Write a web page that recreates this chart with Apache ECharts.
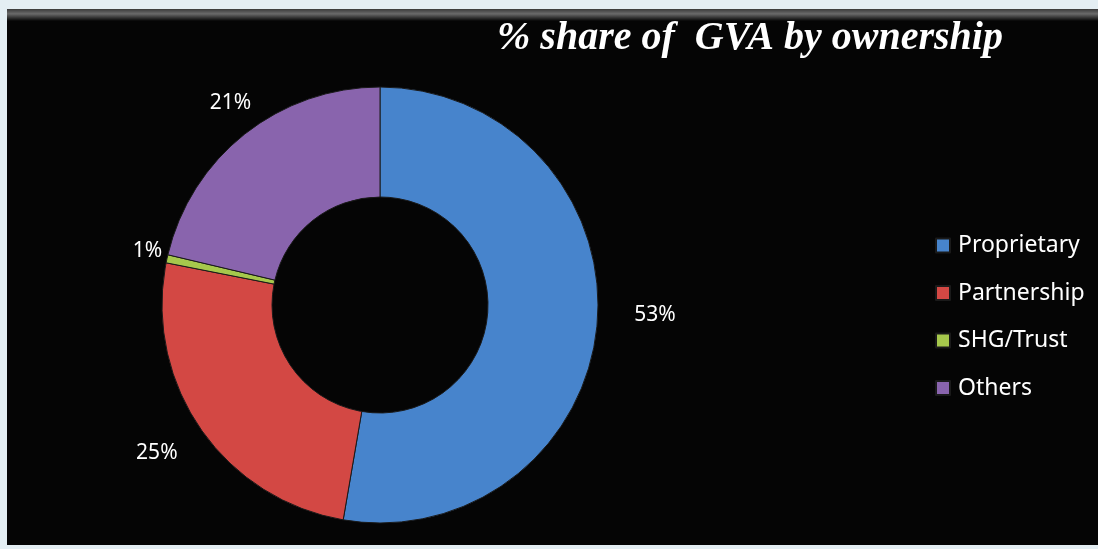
<!DOCTYPE html>
<html>
<head>
<meta charset="utf-8">
<script src="https://cdn.jsdelivr.net/npm/echarts@6/dist/echarts.min.js"></script>
<style>
html,body{margin:0;padding:0;background:#e4eef3;}
#c{width:1098px;height:549px;}
</style>
</head>
<body>
<div id="c"></div>
<script>
const categories = ['Proprietary', 'Partnership', 'SHG/Trust', 'Others'];
const shares = [52.7, 25.4, 0.6, 21.3];
const colors = ['#4784cc', '#d34844', '#a6c84c', '#8964ad'];
const titleText = '% share of  GVA by ownership';
// label nudges (px) relative to the library's outside placement
const labelNudge = [[6, -9], [6, 18], [26, -5], [33, -22]];

const chart = echarts.init(document.getElementById('c'));
chart.setOption({
  backgroundColor: '#e4eef3',
  animation: false,
  graphic: [
    { type: 'rect', shape: { x: 7, y: 9, width: 1091, height: 536 }, style: { fill: '#050505' }, z: -10 },
    { type: 'rect', shape: { x: 7, y: 9, width: 1091, height: 12 },
      style: { fill: new echarts.graphic.LinearGradient(0, 0, 0, 1, [
        { offset: 0, color: '#3a3a3a' }, { offset: 0.4, color: '#6a6a6a' }, { offset: 1, color: '#050505' }]) }, z: -9 }
  ],
  title: {
    text: titleText,
    left: 492,
    top: 14,
    textStyle: { color: '#ffffff', fontFamily: 'Liberation Serif', fontStyle: 'italic', fontWeight: 'bold', fontSize: 40 }
  },
  legend: {
    orient: 'vertical',
    left: 930,
    top: 229,
    itemWidth: 14,
    itemHeight: 14,
    itemGap: 24.5,
    icon: 'rect',
    data: categories,
    textStyle: { color: '#ffffff', fontFamily: 'Noto Sans', fontSize: 23, padding: [0, 0, 0, 3] }
  },
  series: [{
    type: 'pie',
    center: [380, 305],
    radius: [108, 218],
    startAngle: 90,
    clockwise: true,
    avoidLabelOverlap: false,
    color: colors,
    itemStyle: { borderColor: '#1a1a1a', borderWidth: 1 },
    label: {
      show: true,
      position: 'outside',
      formatter: p => Math.round(p.value) + '%',
      color: '#ffffff',
      fontFamily: 'Noto Sans',
      fontSize: 21
    },
    labelLine: { show: false, length: 12, length2: 14 },
    labelLayout: p => ({ dx: labelNudge[p.dataIndex][0], dy: labelNudge[p.dataIndex][1] }),
    emphasis: { disabled: true },
    data: categories.map((n, i) => ({ name: n, value: shares[i] }))
  }]
});
</script>
</body>
</html>
